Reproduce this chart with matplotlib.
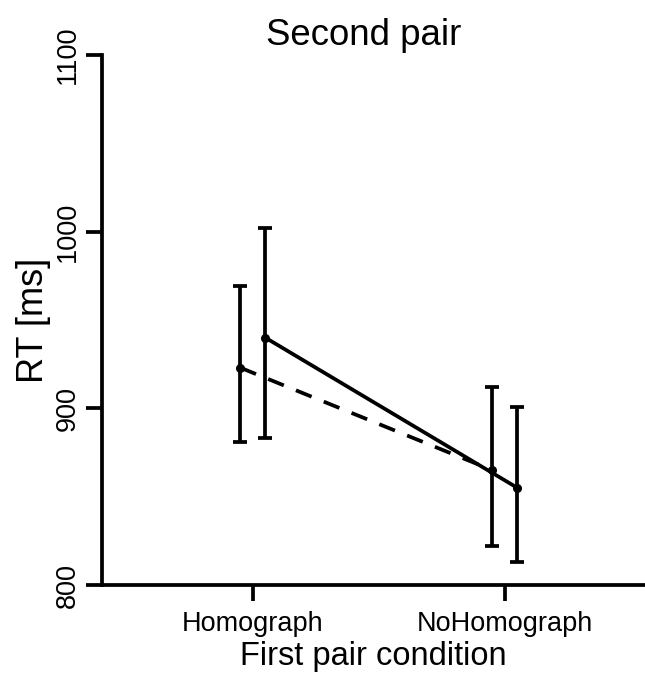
import matplotlib
matplotlib.use("Agg")
import matplotlib.pyplot as plt
import numpy as np

plt.rcParams['font.family'] = ['Liberation Sans', 'DejaVu Sans']

categories = ["Homograph", "NoHomograph"]
dashed_mean = [923, 865]
dashed_low = [881, 822]
dashed_high = [969, 912]
solid_mean = [940, 855]
solid_low = [883, 813]
solid_high = [1002, 901]
yticks = [800, 900, 1000, 1100]

fig = plt.figure(figsize=(6.45, 6.76), dpi=100)
ax = fig.add_axes([0.158, 0.1346, 0.842, 0.784])

x = np.arange(len(categories))
off = 0.0496
LW = 2.7

def draw(xs, mean, low, high, dashed):
    mean = np.array(mean); low = np.array(low); high = np.array(high)
    ax.errorbar(xs, mean, yerr=[mean - low, high - mean], fmt='none',
                ecolor='black', elinewidth=LW, capsize=4.7, capthick=LW, zorder=3)
    line, = ax.plot(xs, mean, color='black', lw=LW, marker='o', ms=5.5, zorder=4)
    if dashed:
        line.set_dashes((4.5, 3.5))

draw(x - off, dashed_mean, dashed_low, dashed_high, True)
draw(x + off, solid_mean, solid_low, solid_high, False)

ax.set_xlim(-0.599, 1.556)
ax.set_ylim(800, 1100)
ax.set_xticks(x)
ax.set_xticklabels(categories, fontsize=19.5)
ax.set_yticks(yticks)
ax.set_yticklabels([str(t) for t in yticks], fontsize=19.5, rotation=90, va='center')
for s in ['top', 'right']:
    ax.spines[s].set_visible(False)
for s in ['left', 'bottom']:
    ax.spines[s].set_linewidth(LW)
ax.tick_params(axis='y', length=11.5, width=LW, pad=3.6)
ax.tick_params(axis='x', length=11.5, width=LW, pad=7)
ax.set_ylabel("RT [ms]", fontsize=26, labelpad=3)
ax.set_xlabel("First pair condition", fontsize=23.5, labelpad=3)
ax.set_title("Second pair", fontsize=26.4, pad=7, x=0.4825)

fig.savefig("out.png", dpi=100)
